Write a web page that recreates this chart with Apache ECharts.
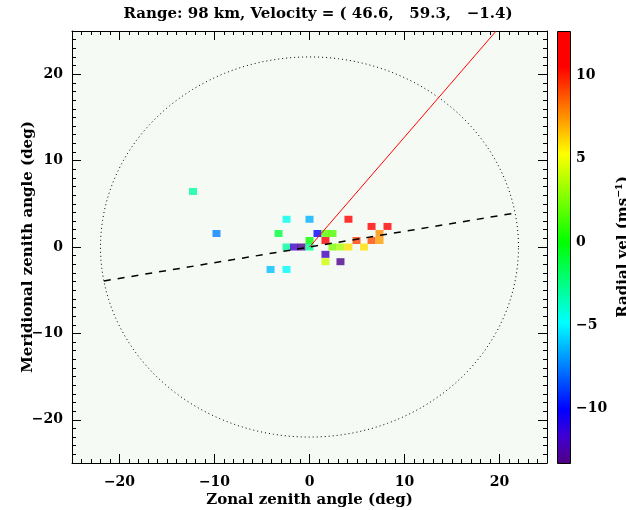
<!DOCTYPE html>
<html><head><meta charset="utf-8">
<script src="https://cdn.jsdelivr.net/npm/echarts@6/dist/echarts.min.js"></script>
<style>html,body{margin:0;padding:0;background:#fff}#c{width:626px;height:510px}</style>
</head><body><div id="c"></div>
<script>
// ---- data ----
const zonal =      [-12.26, -9.79, -2.42, 0.00, -3.26, 0.84, 1.68, 2.42, 0.00, 1.68, -2.42, -1.63, -0.84, 0.00, 1.68, 1.68, -4.10, -2.42, 4.10, 6.53, 8.21, 7.37, 4.95, 6.53, 7.37, 2.42, 3.26, 4.10, 5.74, 3.26];
const meridional = [  6.43,  1.56,  3.21, 3.21,  1.56, 1.56, 1.56, 1.56, 0.75, 0.75,  0.00,  0.00,  0.00, 0.00, -0.85, -1.70, -2.60, -2.60, 3.21, 2.38, 2.38, 1.56, 0.75, 0.75, 0.75, 0.00, 0.00, 0.00, 0.00, -1.70];
const radialVel =  [ -3.0,  -7.4,  -4.5, -6.4,  -1.2, -10.0, 1.9,  1.7,  0.2, 11.0,  -3.0, -11.8, -13.0, -2.7, -12.0, 4.3, -6.1, -4.8, 11.5, 11.0, 12.0, 7.6, 9.2, 8.9, 7.3, 2.6, 3.6, 5.9, 5.9, -13.0];
const xTicks = [-20, -10, 0, 10, 20];
const yTicks = [-20, -10, 0, 10, 20];
const cbTicks = [-10, -5, 0, 5, 10];
const cbRange = [-13.25, 12.65];
const rangeKm = 98;
const velocity = ['46.6', '59.3', '\u22121.4'];
const circleRadius = 22;
const dashedLine = [[-21.65, -3.93], [21.65, 3.93]];
const windLine = [[0, 0], [19.65, 25]];

// ---- colormap (style) ----
const cmapAnchors = [
  [-13.25, [80, 0, 128]],
  [-11.6, [64, 0, 210]],
  [-10.0, [0, 0, 255]],
  [-4.8, [0, 255, 255]],
  [0.0, [0, 255, 0]],
  [5.3, [255, 255, 0]],
  [10.5, [255, 0, 0]],
  [12.65, [255, 0, 0]]
];
function cmap(v) {
  for (let i = 0; i < cmapAnchors.length - 1; i++) {
    const a = cmapAnchors[i], b = cmapAnchors[i + 1];
    if (v <= b[0] || i === cmapAnchors.length - 2) {
      let t = (v - a[0]) / (b[0] - a[0]); t = Math.max(0, Math.min(1, t));
      const c = a[1].map((x, k) => Math.round(x + (b[1][k] - x) * t));
      return 'rgb(' + c.join(',') + ')';
    }
  }
}
const nSamples = 80;
const vmColors = [];
for (let i = 0; i < nSamples; i++) vmColors.push(cmap(cbRange[0] + (cbRange[1] - cbRange[0]) * i / (nSamples - 1)));
const gradStops = cmapAnchors.map(a => ({offset: (cbRange[1] - a[0]) / (cbRange[1] - cbRange[0]), color: cmap(a[0])})).reverse();

const circlePts = [];
for (let a = 0; a <= 360; a += 2) {
  const r = a * Math.PI / 180;
  circlePts.push([circleRadius * Math.cos(r), circleRadius * Math.sin(r)]);
}

function fmt(v) { return v < 0 ? '\u2212' + (-v) : String(v); }
const font = {fontFamily: 'DejaVu Serif', fontWeight: 'bold', fontSize: 14, color: '#000'};
const nameFont = {fontFamily: 'DejaVu Serif', fontWeight: 'bold', fontSize: 15, color: '#000'};
const black = {color: '#000', width: 1};

function axisPair(kind, pos, ticks, withLabels, name) {
  const minor = {
    type: 'value', gridIndex: 0, min: -25, max: 25, interval: 1, position: pos,
    axisLine: {show: true, onZero: false, lineStyle: black},
    axisTick: {show: true, inside: true, length: 4, interval: 0, lineStyle: black},
    axisLabel: {show: false}, splitLine: {show: false}
  };
  if (name) {
    minor.name = name; minor.nameLocation = 'middle';
    minor.nameTextStyle = Object.assign({}, nameFont);
    if (kind === 'y') { minor.nameRotate = 90; minor.nameGap = 36; } else { minor.nameGap = 30; }
  }
  const major = {
    type: 'value', gridIndex: 0, min: -25, max: 25, position: pos,
    axisLine: {show: false, onZero: false},
    axisTick: {show: true, inside: true, length: 9, customValues: ticks, lineStyle: black},
    axisLabel: withLabels ? Object.assign({show: true, customValues: ticks, formatter: fmt, margin: kind === 'y' ? 9 : 12}, font) : {show: false},
    splitLine: {show: false}
  };
  return [minor, major];
}

const xAxes = [].concat(
  axisPair('x', 'bottom', xTicks, true, 'Zonal zenith angle (deg)'),
  axisPair('x', 'top', xTicks, false, null),
  [{type: 'value', gridIndex: 1, min: 0, max: 1, show: false}]
);
const yAxes = [].concat(
  axisPair('y', 'left', yTicks, true, 'Meridional zenith angle (deg)'),
  axisPair('y', 'right', yTicks, false, null),
  [{
    type: 'value', gridIndex: 1, min: cbRange[0], max: cbRange[1], position: 'right',
    axisLine: {show: false}, axisTick: {show: false}, splitLine: {show: false},
    axisLabel: Object.assign({show: true, customValues: cbTicks, formatter: fmt, margin: 6}, font),
    name: 'Radial vel (ms\u207B\u00B9)', nameLocation: 'middle', nameRotate: 90, nameGap: 46,
    nameTextStyle: Object.assign({}, nameFont)
  }]
);

const pts = zonal.map((x, i) => [x, meridional[i], radialVel[i]]);

const option = {
  animation: false,
  backgroundColor: '#fff',
  title: {
    text: 'Range: ' + rangeKm + ' km, Velocity = ( ' + velocity[0] + ',   ' + velocity[1] + ',   ' + velocity[2] + ')',
    left: 313, top: 2, textAlign: 'center',
    textStyle: Object.assign({}, nameFont)
  },
  grid: [
    {left: 72, top: 31, width: 475, height: 432, show: true, backgroundColor: '#f5faf5', borderWidth: 0, outerBoundsMode: 'none', containLabel: false},
    {left: 557, top: 31, width: 13, height: 432, show: false, outerBoundsMode: 'none', containLabel: false}
  ],
  xAxis: xAxes,
  yAxis: yAxes,
  visualMap: {
    type: 'continuous', show: false, min: cbRange[0], max: cbRange[1], dimension: 2, seriesIndex: 0,
    inRange: {color: vmColors}
  },
  series: [
    {type: 'scatter', xAxisIndex: 0, yAxisIndex: 0, data: pts, symbol: 'rect', symbolSize: [8, 7], z: 2, silent: true},
    {type: 'line', xAxisIndex: 0, yAxisIndex: 0, data: circlePts, symbol: 'none', z: 3, silent: true,
     lineStyle: {color: '#000', width: 1, type: [1, 3]}},
    {type: 'line', xAxisIndex: 0, yAxisIndex: 0, data: dashedLine, symbol: 'none', z: 4, silent: true,
     lineStyle: {color: '#000', width: 1.5, type: [7, 7]}},
    {type: 'line', xAxisIndex: 0, yAxisIndex: 0, data: windLine, symbol: 'none', z: 5, silent: true, clip: true,
     lineStyle: {color: '#ff0000', width: 1}},
    {type: 'custom', xAxisIndex: 4, yAxisIndex: 4, data: [[0.5, 0]], silent: true,
     renderItem: function (params, api) {
       const p0 = api.coord([0.5, cbRange[1]]);
       const p1 = api.coord([0.5, cbRange[0]]);
       const cs = params.coordSys;
       return {
         type: 'rect',
         shape: {x: cs.x + 0.5, y: p0[1] + 0.5, width: cs.width, height: p1[1] - p0[1]},
         style: {fill: new echarts.graphic.LinearGradient(0, 0, 0, 1, gradStops), stroke: '#000', lineWidth: 1}
       };
     }}
  ]
};
const chart = echarts.init(document.getElementById('c'), null, {renderer: 'canvas'});
chart.setOption(option);
</script></body></html>
